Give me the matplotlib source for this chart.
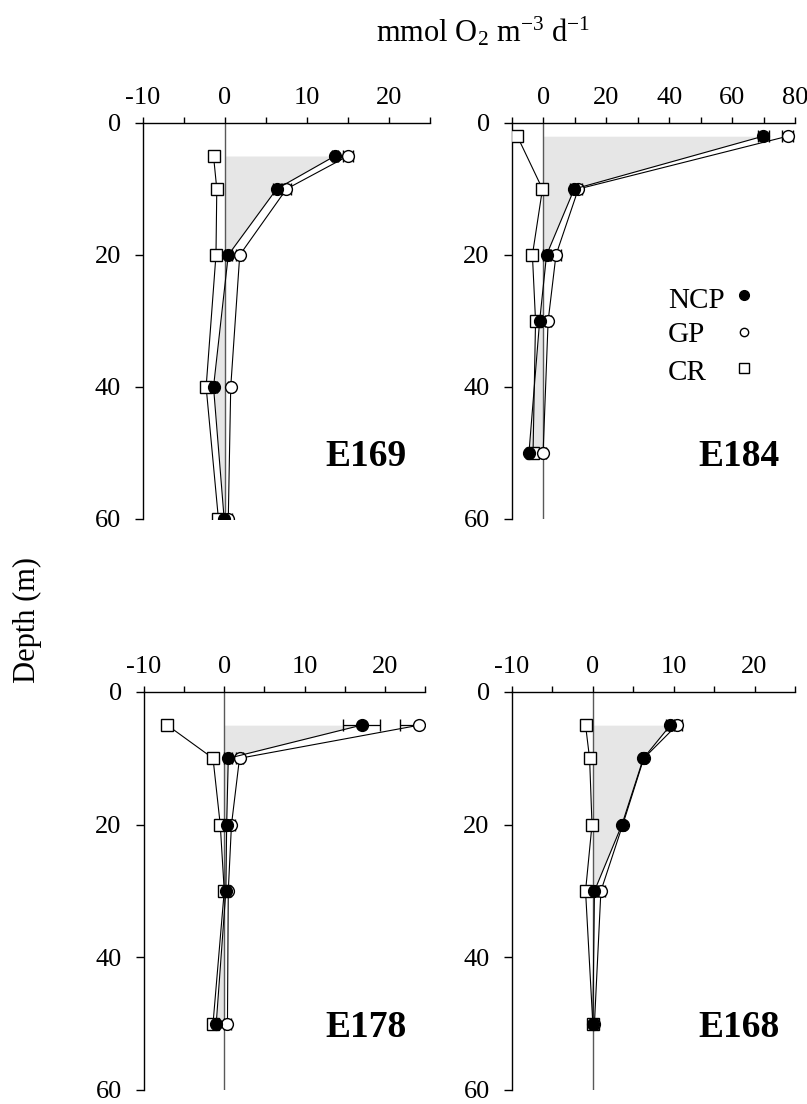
import numpy as np
import matplotlib
matplotlib.use('Agg')
import matplotlib.pyplot as plt
from matplotlib.ticker import MultipleLocator

plt.rcParams['font.family'] = ['Liberation Serif', 'DejaVu Serif']
plt.rcParams['mathtext.fontset'] = 'custom'
plt.rcParams['mathtext.rm'] = 'Liberation Serif'
plt.rcParams['mathtext.it'] = 'Liberation Serif:italic'
plt.rcParams['axes.unicode_minus'] = False

# ---------------- data ----------------
stations = ['E169', 'E184', 'E178', 'E168']

depth_E169 = [5, 10, 20, 40, 60]
ncp_E169 = [13.4, 6.3, 0.4, -1.4, -0.1]
gp_E169 = [15.0, 7.5, 1.8, 0.7, 0.4]
cr_E169 = [-1.4, -1.0, -1.1, -2.3, -0.8]
ncp_err_E169 = [0.4, 0.5, 0.4, 0.4, 0.4]
gp_err_E169 = [0.6, 0.5, 0.4, 0.3, 0.4]
cr_err_E169 = [0.3, 0.3, 0.3, 0.5, 0.5]

depth_E184 = [2, 10, 20, 30, 50]
ncp_E184 = [69.9, 9.8, 1.0, -1.2, -4.6]
gp_E184 = [77.7, 11.1, 4.0, 1.5, -0.1]
cr_E184 = [-8.3, -0.3, -3.5, -2.5, -3.3]
ncp_err_E184 = [1.8, 1.2, 1.0, 0.8, 1.0]
gp_err_E184 = [1.7, 1.2, 1.5, 1.0, 0.8]
cr_err_E184 = [0.8, 0.8, 1.0, 1.0, 0.8]

depth_E178 = [5, 10, 20, 30, 50]
ncp_E178 = [17.1, 0.5, 0.3, 0.2, -1.0]
gp_E178 = [24.3, 1.9, 0.9, 0.5, 0.4]
cr_E178 = [-7.1, -1.4, -0.5, 0.0, -1.4]
ncp_err_E178 = [2.3, 0.5, 0.4, 0.3, 0.4]
gp_err_E178 = [2.4, 0.4, 0.4, 0.3, 0.4]
cr_err_E178 = [0.4, 0.4, 0.3, 0.3, 0.4]

depth_E168 = [5, 10, 20, 30, 50]
ncp_E168 = [9.6, 6.25, 3.6, 0.2, 0.0]
gp_E168 = [10.4, 6.3, 3.7, 1.0, 0.2]
cr_E168 = [-0.9, -0.4, -0.1, -0.9, 0.0]
ncp_err_E168 = [0.5, 0.3, 0.3, 0.4, 0.3]
gp_err_E168 = [0.6, 0.3, 0.3, 0.5, 0.3]
cr_err_E168 = [0.3, 0.4, 0.3, 0.4, 0.4]

series_labels = ['NCP', 'GP', 'CR']

panels = {
    'E169': (depth_E169, ncp_E169, gp_E169, cr_E169, ncp_err_E169, gp_err_E169, cr_err_E169),
    'E184': (depth_E184, ncp_E184, gp_E184, cr_E184, ncp_err_E184, gp_err_E184, cr_err_E184),
    'E178': (depth_E178, ncp_E178, gp_E178, cr_E178, ncp_err_E178, gp_err_E178, cr_err_E178),
    'E168': (depth_E168, ncp_E168, gp_E168, cr_E168, ncp_err_E168, gp_err_E168, cr_err_E168),
}

# ---------------- layout ----------------
fig = plt.figure(figsize=(8.07, 11.04), dpi=100)

axes_rects = {
    'E169': [0.1772, 0.5299, 0.3556, 0.3587],
    'E184': [0.6344, 0.5299, 0.3507, 0.3587],
    'E178': [0.1784, 0.0127, 0.3482, 0.3605],
    'E168': [0.6344, 0.0127, 0.3507, 0.3605],
}
xlims = {'E169': (-10, 25), 'E184': (-10, 80), 'E178': (-10, 25), 'E168': (-10, 25)}
major_step = {'E169': 10, 'E184': 20, 'E178': 10, 'E168': 10}
minor_step = {'E169': 5, 'E184': 10, 'E178': 5, 'E168': 5}
label_pos = {'E169': (0.92, 0.157), 'E184': (0.947, 0.157),
             'E178': (0.936, 0.158), 'E168': (0.947, 0.158)}

styles = {
    'NCP': dict(marker='o', mfc='black', mec='black', ms=8.5),
    'GP': dict(marker='o', mfc='white', mec='black', ms=8.5),
    'CR': dict(marker='s', mfc='white', mec='black', ms=9),
}
# legend layout (axes fraction in E184 panel)
legend_text_x = 0.551
legend_text_y = [0.533, 0.447, 0.351]
legend_mark_x = 0.82
legend_mark_y = [0.566, 0.472, 0.381]
legend_ms = {'NCP': 7, 'GP': 6, 'CR': 7}

for name in stations:
    depth, ncp, gp, cr, ncp_e, gp_e, cr_e = panels[name]
    ax = fig.add_axes(axes_rects[name])
    d = np.array(depth, dtype=float)
    ax.fill_betweenx(d, 0, np.array(ncp), color='0.9', lw=0, zorder=0)
    ax.axvline(0, color='0.35', lw=1.0, zorder=1)
    for lab, vals, errs, z in (('CR', cr, cr_e, 3), ('GP', gp, gp_e, 4), ('NCP', ncp, ncp_e, 5)):
        ax.errorbar(vals, d, xerr=errs, color='black', lw=0.8, elinewidth=0.9,
                    capsize=4, capthick=0.9, mew=1.0, zorder=z, **styles[lab])
    ax.set_xlim(*xlims[name])
    ax.set_ylim(60, 0)
    ax.set_yticks([0, 20, 40, 60])
    ax.xaxis.set_major_locator(MultipleLocator(major_step[name]))
    ax.xaxis.set_minor_locator(MultipleLocator(minor_step[name]))
    ax.xaxis.tick_top()
    ax.spines['right'].set_visible(False)
    ax.spines['bottom'].set_visible(False)
    ax.spines['left'].set_linewidth(1.0)
    ax.spines['top'].set_linewidth(1.0)
    ax.tick_params(axis='x', which='both', direction='out', length=4, width=1.0,
                   labelsize=19, pad=6)
    ax.tick_params(axis='y', which='major', direction='out', length=6, width=1.0,
                   labelsize=19, pad=10)
    ax.patch.set_alpha(0)
    lx, ly = label_pos[name]
    ax.text(lx, ly, name, transform=ax.transAxes, ha='right', va='center',
            fontsize=27, fontweight='bold')
    if name == 'E184':
        for i, lab in enumerate(series_labels):
            ax.text(legend_text_x, legend_text_y[i], lab, transform=ax.transAxes,
                    ha='left', va='baseline', fontsize=21)
            ax.plot([legend_mark_x], [legend_mark_y[i]], transform=ax.transAxes,
                    linestyle='none', marker=styles[lab]['marker'], mfc=styles[lab]['mfc'],
                    mec='black', ms=legend_ms[lab], mew=1.0, clip_on=False)

fig.text(0.5985, 0.971, 'mmol O$_2$ m$^{-3}$ d$^{-1}$', ha='center', va='center', fontsize=22)
fig.text(0.0335, 0.4384, 'Depth (m)', rotation=90, ha='center', va='center', fontsize=22)

fig.savefig('out.png', dpi=100)
